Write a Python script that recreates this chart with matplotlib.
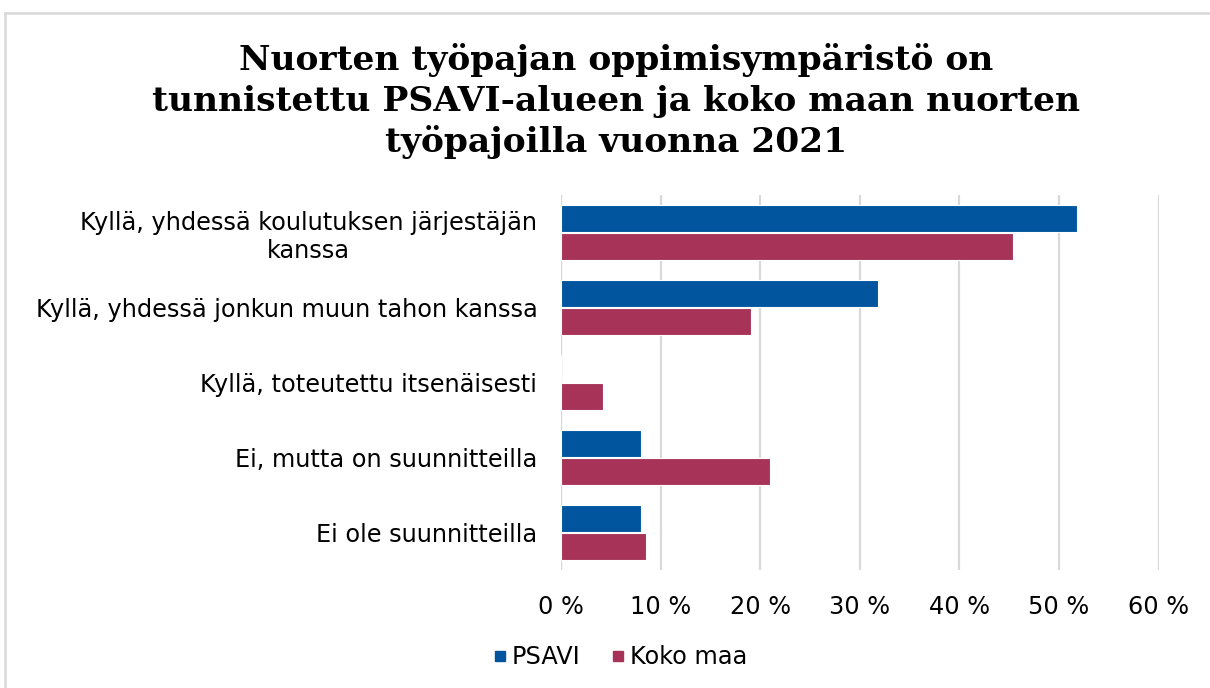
import matplotlib
matplotlib.use("Agg")
import matplotlib.pyplot as plt
from matplotlib.lines import Line2D
from matplotlib.ticker import FuncFormatter
import numpy as np

categories = [
    "Kyllä, yhdessä koulutuksen järjestäjän\nkanssa",
    "Kyllä, yhdessä jonkun muun tahon kanssa",
    "Kyllä, toteutettu itsenäisesti",
    "Ei, mutta on suunnitteilla",
    "Ei ole suunnitteilla",
]
psavi = [51.8, 31.8, 0.0, 8.0, 8.0]
koko_maa = [45.4, 19.1, 4.2, 21.0, 8.5]
series_names = ["PSAVI", "Koko maa"]
xticks = [0, 10, 20, 30, 40, 50, 60]

BLUE = "#00559E"
PINK = "#A83358"
GRID = "#D9D9D9"

plt.rcParams["font.family"] = ["DejaVu Sans"]

fig = plt.figure(figsize=(12.10, 6.88), dpi=100)
ax = fig.add_axes([0.4636, 0.1715, 0.494, 0.545])

y = np.arange(len(categories))
h = 0.36
off = 0.19
ax.barh(y - off, psavi, height=h, color=BLUE, edgecolor="white", linewidth=0.8, zorder=3)
ax.barh(y + off, koko_maa, height=h, color=PINK, edgecolor="white", linewidth=0.8, zorder=3)

ax.set_xlim(0, 60)
ax.set_ylim(len(categories) - 0.5, -0.5)
ax.set_xticks(xticks)
ax.xaxis.set_major_formatter(FuncFormatter(lambda v, p: f"{v:.0f} %"))
ax.set_yticks(y)
ax.set_yticklabels(categories)
for lab in ax.get_yticklabels():
    lab.set_multialignment("center")

ax.tick_params(axis="both", length=0, labelsize=17.3, colors="#000000")
ax.tick_params(axis="y", pad=17)
ax.tick_params(axis="x", pad=18)
ax.grid(axis="x", color=GRID, linewidth=1.6, zorder=0)
for s in ax.spines.values():
    s.set_visible(False)
ax.axvline(0, color=GRID, linewidth=1.6, zorder=1)

fig.text(0.509, 0.853,
         "Nuorten työpajan oppimisympäristö on\n"
         "tunnistettu PSAVI-alueen ja koko maan nuorten\n"
         "työpajoilla vuonna 2021",
         ha="center", va="center", fontsize=24.8, fontweight="bold",
         family="DejaVu Serif", linespacing=1.27)

handles = [Line2D([], [], marker="s", linestyle="none", markersize=7, color=c)
           for c in (BLUE, PINK)]
fig.legend(handles, series_names, loc="center", bbox_to_anchor=(0.512, 0.045),
           ncol=2, frameon=False, fontsize=17.3, handletextpad=0.15,
           columnspacing=1.2, handlelength=0.7)

# outer frame edge
fig.add_artist(Line2D([5 / 1210, 1], [1 - 13 / 688, 1 - 13 / 688],
                      transform=fig.transFigure, color=GRID, linewidth=1.8))
fig.add_artist(Line2D([5 / 1210, 5 / 1210], [0, 1 - 13 / 688],
                      transform=fig.transFigure, color=GRID, linewidth=1.8))

fig.savefig("out.png", dpi=100, facecolor="white")
